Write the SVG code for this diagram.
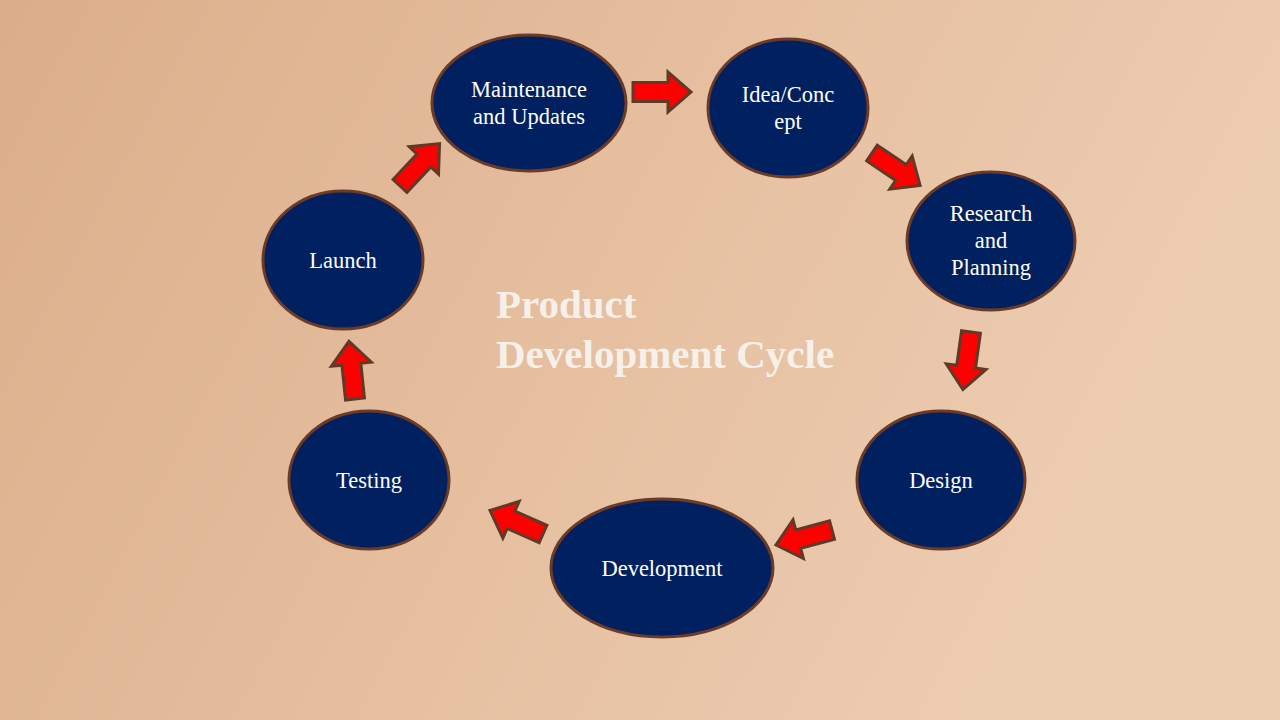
<svg xmlns="http://www.w3.org/2000/svg" width="1280" height="720" viewBox="0 0 1280 720">
  <defs>
    <linearGradient id="bg" x1="0" y1="0" x2="1" y2="0.3">
      <stop offset="0" stop-color="#DBAE8A"/>
      <stop offset="0.5" stop-color="#E5BE9E"/>
      <stop offset="1" stop-color="#EDCDB2"/>
    </linearGradient>
    <path id="arr" d="M0,-9.5 L35,-9.5 L35,-20 L58,0 L35,20 L35,9.5 L0,9.5 Z"/>
  </defs>
  <style>
    .node ellipse { fill: #00205F; stroke: #6B3B28; stroke-width: 3; }
    .node text { fill: #FFFFFF; font-family: "Liberation Serif", "Times New Roman", serif; font-size: 22.5px; text-anchor: middle; }
    .conn use { fill: #FF0000; stroke: #603A28; stroke-width: 3; stroke-linejoin: miter; }
    .title { fill: #F6F0EA; font-family: "Liberation Serif", "Times New Roman", serif; font-size: 41px; font-weight: bold; }
  </style>
  <rect width="1280" height="720" fill="url(#bg)"/>

  <g id="connectors" class="conn">
    <use href="#arr" transform="translate(633,92) rotate(0)"/>
    <use href="#arr" transform="translate(872,153) rotate(34)"/>
    <use href="#arr" transform="translate(971,332) rotate(98)"/>
    <use href="#arr" transform="translate(832,530) rotate(165)"/>
    <use href="#arr" transform="translate(543,534) rotate(204)"/>
    <use href="#arr" transform="translate(355,399) rotate(-96)"/>
    <use href="#arr" transform="translate(400,186) rotate(-47)"/>
  </g>

  <g id="node-maintenance" class="node">
    <ellipse cx="529" cy="103" rx="97" ry="68"/>
    <text x="529" y="97">Maintenance</text>
    <text x="529" y="124">and Updates</text>
  </g>
  <g id="node-idea" class="node">
    <ellipse cx="788" cy="108" rx="80" ry="69"/>
    <text x="788" y="102">Idea/Conc</text>
    <text x="788" y="129">ept</text>
  </g>
  <g id="node-research" class="node">
    <ellipse cx="991" cy="241" rx="84" ry="69"/>
    <text x="991" y="221">Research</text>
    <text x="991" y="248">and</text>
    <text x="991" y="275">Planning</text>
  </g>
  <g id="node-design" class="node">
    <ellipse cx="941" cy="480" rx="84" ry="69"/>
    <text x="941" y="488">Design</text>
  </g>
  <g id="node-development" class="node">
    <ellipse cx="662" cy="568" rx="111" ry="69"/>
    <text x="662" y="576">Development</text>
  </g>
  <g id="node-testing" class="node">
    <ellipse cx="369" cy="480" rx="80" ry="69"/>
    <text x="369" y="488">Testing</text>
  </g>
  <g id="node-launch" class="node">
    <ellipse cx="343" cy="260" rx="80" ry="69"/>
    <text x="343" y="268">Launch</text>
  </g>

  <g id="title">
    <text class="title" x="496" y="318">Product</text>
    <text class="title" x="496" y="368">Development Cycle</text>
  </g>
</svg>
